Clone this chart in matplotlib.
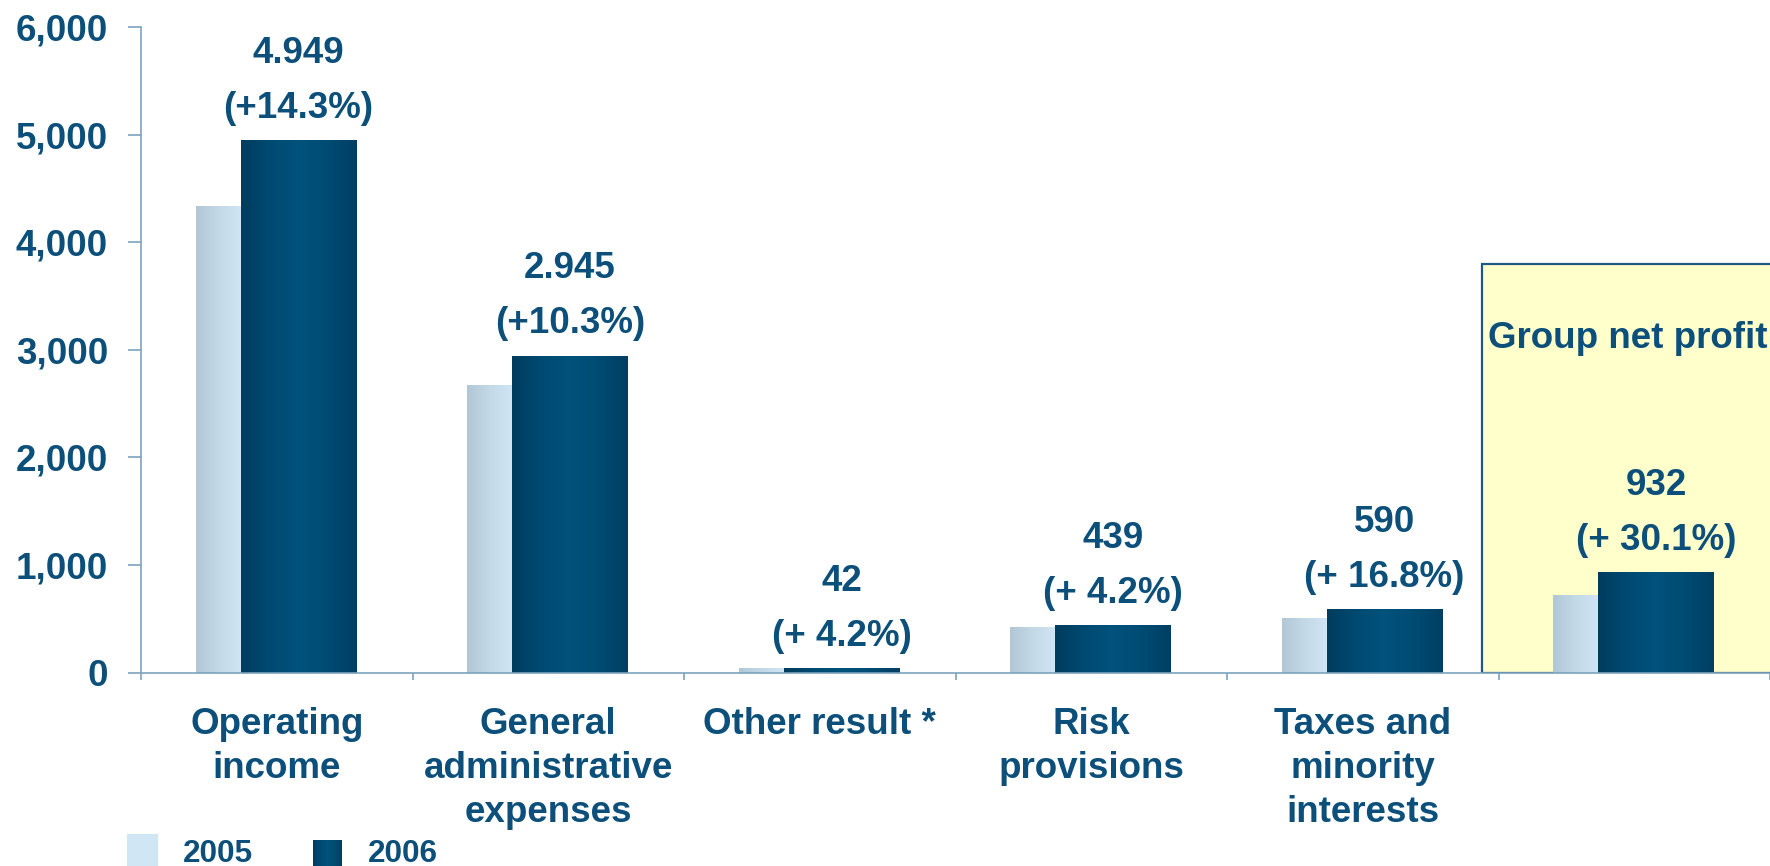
import numpy as np
import matplotlib
matplotlib.use("Agg")
import matplotlib.pyplot as plt
from matplotlib.patches import Rectangle
from matplotlib.colors import LinearSegmentedColormap

# ---- data -------------------------------------------------------------
categories = ["Operating\nincome", "General\nadministrative\nexpenses",
              "Other result *", "Risk\nprovisions",
              "Taxes and\nminority\ninterests", "Group net profit"]
values_2005 = [4335, 2675, 40, 423, 512, 720]
values_2006 = [4949, 2945, 42, 439, 590, 932]
change_labels = ["(+14.3%)", "(+10.3%)", "(+ 4.2%)", "(+ 4.2%)",
                 "(+ 16.8%)", "(+ 30.1%)"]
series_names = ["2005", "2006"]
y_ticks = [0, 1000, 2000, 3000, 4000, 5000, 6000]

# ---- style ------------------------------------------------------------
TEXT = "#0b4f7a"
SPINE = "#7ba3bd"
FONT = "Liberation Sans"
plt.rcParams["font.family"] = [FONT, "DejaVu Sans"]
plt.rcParams["font.weight"] = "bold"

light_cmap = LinearSegmentedColormap.from_list(
    "light", ["#b2c7d5", "#c3d9e7", "#d0e6f4"])
dark_cmap = LinearSegmentedColormap.from_list(
    "dark", ["#003c5e", "#004a72", "#00527c", "#004b73", "#003f63"])

W, H = 1770, 866
fig = plt.figure(figsize=(W / 100, H / 100), dpi=100)
ax = fig.add_axes([141 / W, 193.3 / H, 1 - 141 / W, (839 - 193.3) / H])

x = np.arange(len(categories))
light_off, light_w = -0.215, 0.166
dark_off, dark_w = 0.08, 0.424

# highlight box behind the last category
box = Rectangle((4.438, 0), 1.2, 3800, facecolor="#ffffcc",
                edgecolor="#1c5a80", linewidth=1.6, zorder=1)
ax.add_patch(box)

bars_05 = ax.bar(x + light_off, values_2005, light_w, color="#c3d9e7",
                 linewidth=0, zorder=2)
bars_06 = ax.bar(x + dark_off, values_2006, dark_w, color="#004a72",
                 linewidth=0, zorder=3)

grad = np.linspace(0, 1, 256).reshape(1, -1)


def shade(bars, cmap, z):
    for b in bars:
        x0, y0 = b.get_x(), b.get_y()
        im = ax.imshow(grad, cmap=cmap, aspect="auto", zorder=z,
                       extent=(x0, x0 + b.get_width(), y0, y0 + b.get_height()),
                       interpolation="bilinear")
        im.set_clip_path(b)


shade(bars_05, light_cmap, 2.5)
shade(bars_06, dark_cmap, 3.5)

ax.set_xlim(-0.5, 5.5)
ax.set_ylim(0, 6000)

# value labels over the 2006 bars
for xi, v, ch in zip(x, values_2006, change_labels):
    txt = f"{v:,}".replace(",", ".")
    ax.annotate(txt, (xi + dark_off, v), xytext=(0, 87),
                textcoords="offset pixels", ha="center", va="center",
                fontsize=26.5, color=TEXT, fontweight="bold", zorder=5)
    ax.annotate(ch, (xi + dark_off, v), xytext=(0, 32),
                textcoords="offset pixels", ha="center", va="center",
                fontsize=26.5, color=TEXT, fontweight="bold", zorder=5)

ax.text(4.462, 3018, categories[-1], ha="left", va="baseline",
        fontsize=26.5, color=TEXT, fontweight="bold", zorder=5)

# axes, ticks and labels
for s in ["top", "right"]:
    ax.spines[s].set_visible(False)
for s in ["left", "bottom"]:
    ax.spines[s].set_color(SPINE)
    ax.spines[s].set_linewidth(1.2)
    ax.spines[s].set_zorder(4)

ax.set_yticks(y_ticks, labels=[f"{t:,}" for t in y_ticks])
ax.tick_params(axis="y", length=9.4, width=1.2, color=SPINE, pad=14.4,
               labelsize=26.5, labelcolor=TEXT)
ax.set_xticks(np.arange(-0.5, 5.51, 1.0), labels=[])
ax.tick_params(axis="x", which="major", length=5, width=1.2, color=SPINE)
ax.set_xticks(x[:-1], labels=categories[:-1], minor=True)
ax.tick_params(axis="x", which="minor", length=0, pad=25,
               labelsize=26.5, labelcolor=TEXT)
for lab in ax.get_yticklabels():
    lab.set_fontweight("bold")
for lab in ax.get_xticklabels(minor=True):
    lab.set_fontweight("bold")
    lab.set_linespacing(1.33)

# legend along the bottom edge
fig.add_artist(Rectangle((127 / W, 0), 31 / W, (866 - 834) / H,
                         transform=fig.transFigure, facecolor="#d0e6f4",
                         edgecolor="none"))
lax = fig.add_axes([313 / W, 0, 29 / W, (866 - 840) / H])
lax.imshow(grad, cmap=dark_cmap, aspect="auto", extent=(0, 1, 0, 1))
lax.set_axis_off()
for name, px in zip(series_names, [183, 368]):
    fig.text(px / W, (866 - 862) / H, name, ha="left", va="baseline",
             fontsize=22.7, color=TEXT, fontweight="bold")

fig.savefig("out.png", dpi=100)
